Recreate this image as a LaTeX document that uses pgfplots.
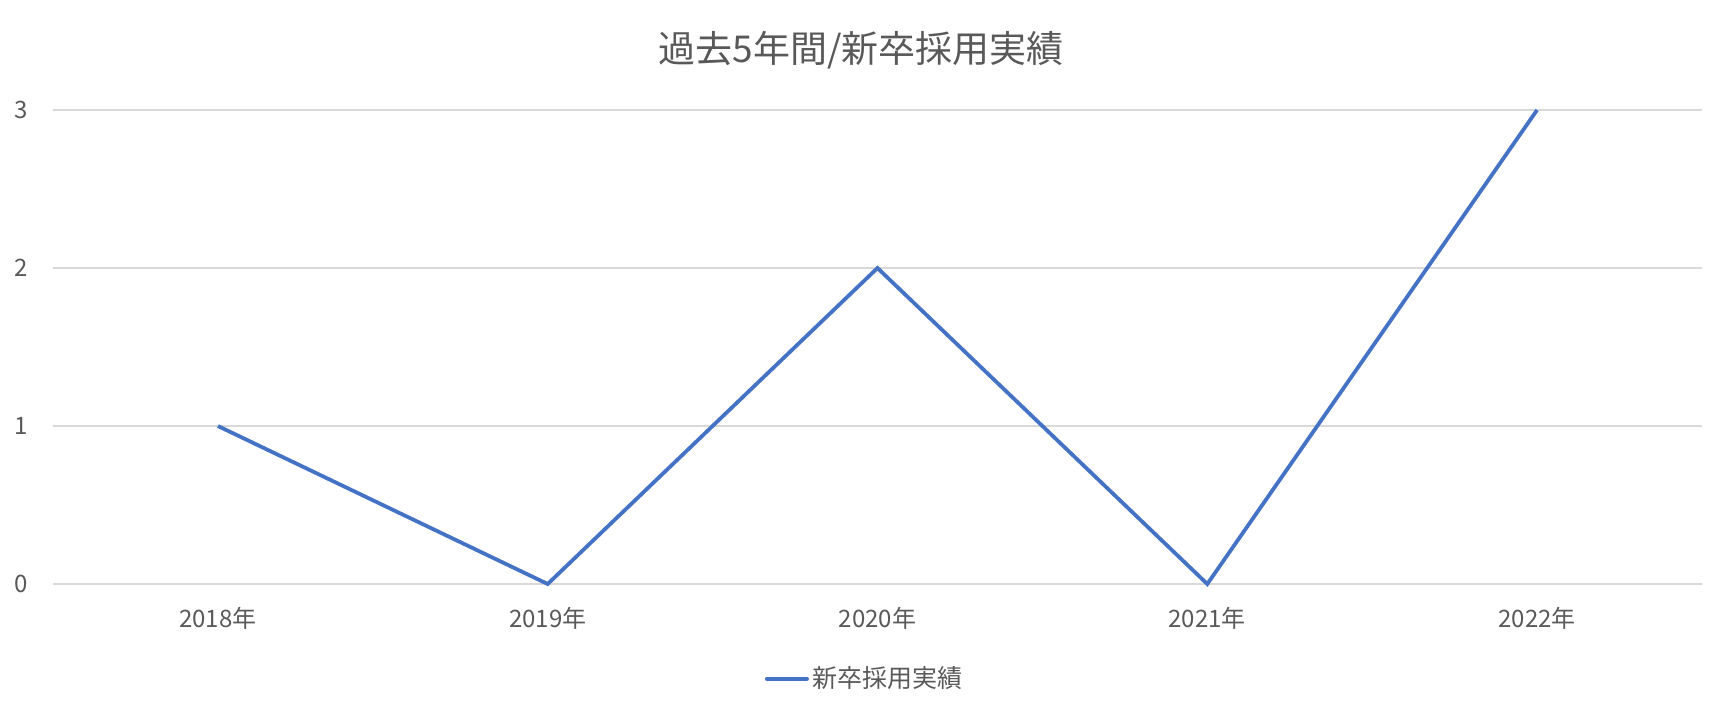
\documentclass[border=0pt]{standalone}
\usepackage{fontspec}
\setmainfont{Noto Sans CJK JP}
\usepackage{pgfplots}
\pgfplotsset{compat=1.18}
\definecolor{linec}{HTML}{4472C4}
\definecolor{gridc}{HTML}{D9D9D9}
\definecolor{txt}{HTML}{595959}
\begin{document}
\begin{tikzpicture}
\path[use as bounding box] (-26.5pt,-65pt) rectangle (836pt,292pt);
\begin{axis}[
  at={(0,0)}, anchor=south west,
  scale only axis, width=824.5pt, height=237pt,
  xmin=-0.5, xmax=4.5, ymin=0, ymax=3,
  xtick={0,1,2,3,4},
  xticklabels={2018年,2019年,2020年,2021年,2022年},
  ytick={0,1,2,3},
  axis line style={draw=none},
  major tick length=0pt,
  ymajorgrids, grid style={gridc, line width=0.75pt},
  tick label style={font=\fontsize{12}{14}\selectfont, text=txt},
  /pgf/number format/assume math mode=true,
  yticklabel style={xshift=-9pt},
  xticklabel style={yshift=-8pt},
  clip=false,
  legend style={at={(0.493,-0.2)}, anchor=center, draw=none, fill=none,
    font=\fontsize{12.5}{14}\selectfont, text=txt,
    legend cell align=left},
  legend image code/.code={\draw[#1, line width=2pt, line cap=round] (0pt,0pt) -- (20pt,0pt);},
]
\addplot[linec, line width=1.9pt, mark=none] coordinates {(0,1) (1,0) (2,2) (3,0) (4,3)};
\addlegendentry{新卒採用実績}
\end{axis}
\node[text=txt, font=\fontsize{18.5}{22}\selectfont] at (404pt,267pt) {過去5年間/新卒採用実績};
\end{tikzpicture}
\end{document}
